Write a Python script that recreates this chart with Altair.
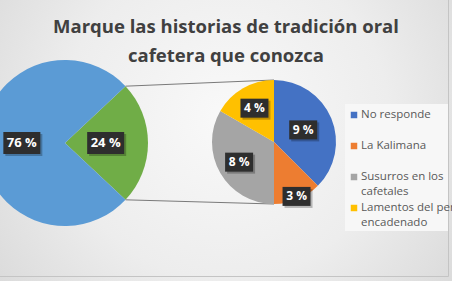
import math
import altair as alt
import pandas as pd

# ---------------- data ----------------
title_lines = ["Marque las historias de tradición oral", "cafetera que conozca"]

main_cats = ["Otras historias", "No responde"]
main_vals = [24, 76]
main_labels = ["24 %", "76 %"]
main_colors = ["#70AD47", "#5B9BD5"]

sub_cats = ["No responde", "La Kalimana", "Susurros en los cafetales", "Lamentos del perro encadenado"]
sub_vals = [9, 3, 8, 4]
sub_labels = ["9 %", "3 %", "8 %", "4 %"]
sub_colors = ["#4472C4", "#ED7D31", "#A5A5A5", "#FFC000"]
legend_lines = [["No responde"], ["La Kalimana"], ["Susurros en los", "cafetales"],
                ["Lamentos del perro", "encadenado"]]

# ---------------- layout ----------------
W, H = 452, 281
LCX, LCY, LR = 65, 143, 83
RCX, RCY, RR = 274, 142, 62
main_label_frac = [0.49, 0.52]
sub_label_frac = [0.51, 0.95, 0.65, 0.63]
FONT = "Open Sans"

main_total = sum(main_vals)
sub_total = sum(sub_vals)
# the "others" slice of the main pie is centred on 3 o'clock
lstart = math.pi / 2 - math.pi * main_vals[0] / main_total


def slice_mids(vals, start):
    tot = sum(vals)
    out, acc = [], start
    for v in vals:
        a = 2 * math.pi * v / tot
        out.append(acc + a / 2)
        acc += a
    return out


main_df = pd.DataFrame({"cat": main_cats, "v": main_vals, "col": main_colors,
                        "ord": list(range(len(main_cats)))})
sub_df = pd.DataFrame({"cat": sub_cats, "v": sub_vals, "col": sub_colors,
                       "ord": list(range(len(sub_cats)))})

lab_rows = []
for lab, ang, f in zip(main_labels, slice_mids(main_vals, lstart), main_label_frac):
    lab_rows.append({"t": lab, "x": LCX + f * LR * math.sin(ang), "y": LCY - f * LR * math.cos(ang),
                     "hw": 18.5, "hh": 11, "fs": 13})
for lab, ang, f in zip(sub_labels, slice_mids(sub_vals, 0.0), sub_label_frac):
    lab_rows.append({"t": lab, "x": RCX + f * RR * math.sin(ang), "y": RCY - f * RR * math.cos(ang),
                     "hw": 14, "hh": 9.5, "fs": 12})
lab_df = pd.DataFrame(lab_rows)
lab_df["x1"] = lab_df.x - lab_df.hw
lab_df["x2"] = lab_df.x + lab_df.hw
lab_df["y1"] = lab_df.y - lab_df.hh
lab_df["y2"] = lab_df.y + lab_df.hh
lab_df["sx1"] = lab_df.x1 + 2
lab_df["sx2"] = lab_df.x2 + 2
lab_df["sy1"] = lab_df.y1 + 2
lab_df["sy2"] = lab_df.y2 + 2

# connector lines: from edges of the "others" slice to top/bottom of the sub pie
a_top = lstart
a_bot = lstart + 2 * math.pi * main_vals[0] / main_total
conn_df = pd.DataFrame({
    "x": [LCX + LR * math.sin(a_top), LCX + LR * math.sin(a_bot)],
    "y": [LCY - LR * math.cos(a_top), LCY - LR * math.cos(a_bot)],
    "x2": [RCX, RCX],
    "y2": [RCY - RR, RCY + RR],
})

leg_rows, text_rows = [], []
LEG_Y0, LEG_STEP, LINE_H = 115, 31, 15
for i, (c, lines) in enumerate(zip(sub_colors, legend_lines)):
    y = LEG_Y0 + LEG_STEP * i
    leg_rows.append({"x": 354, "y": y, "col": c})
    for j, ln in enumerate(lines):
        text_rows.append({"x": 361, "y": y + j * LINE_H, "t": ln})
leg_df = pd.DataFrame(leg_rows)
legtxt_df = pd.DataFrame(text_rows)

title_df = pd.DataFrame({"t": title_lines, "x": [226, 226], "y": [27, 56]})

xs = alt.Scale(domain=[0, W], range=[0, W])
ys = alt.Scale(domain=[0, H], range=[0, H])
X = lambda f: alt.X(f, type="quantitative", scale=xs, axis=None)
Y = lambda f: alt.Y(f, type="quantitative", scale=ys, axis=None)

one = pd.DataFrame({"a": [0]})

bg = alt.Chart(one).mark_rect(fill={
    "gradient": "radial",
    "x1": 0.5, "y1": 0.45, "r1": 0.0,
    "x2": 0.5, "y2": 0.45, "r2": 0.72,
    "stops": [{"offset": 0, "color": "#f9f9f9"}, {"offset": 0.5, "color": "#ededed"},
              {"offset": 1, "color": "#d4d4d4"}],
}).encode(x=alt.value(0), x2=alt.value(W), y=alt.value(0), y2=alt.value(H))

border = alt.Chart(one).mark_rect(fill=None, stroke="#c4c4c4", strokeWidth=1).encode(
    x=alt.value(-2), x2=alt.value(448.5), y=alt.value(-2), y2=alt.value(276.5))

legbox = alt.Chart(one).mark_rect(fill="#f7f7f7").encode(
    x=alt.value(345), x2=alt.value(448), y=alt.value(104), y2=alt.value(231))

conn = alt.Chart(conn_df).mark_rule(color="#7a7a7a", strokeWidth=1).encode(
    x=X("x"), y=Y("y"), x2="x2", y2="y2")

main_pie = alt.Chart(main_df).mark_arc(radius=LR).encode(
    theta=alt.Theta("v:Q", stack=True, scale=alt.Scale(range=[lstart, lstart + 2 * math.pi])),
    order=alt.Order("ord:Q"),
    color=alt.Color("col:N", scale=None),
    x=alt.value(LCX), y=alt.value(LCY))

sub_pie = alt.Chart(sub_df).mark_arc(radius=RR).encode(
    theta=alt.Theta("v:Q", stack=True, scale=alt.Scale(range=[0, 2 * math.pi])),
    order=alt.Order("ord:Q"),
    color=alt.Color("col:N", scale=None),
    x=alt.value(RCX), y=alt.value(RCY))

shadow = alt.Chart(lab_df).mark_rect(fill="#000000", opacity=0.25).encode(
    x=X("sx1"), x2="sx2", y=Y("sy1"), y2="sy2")
boxes = alt.Chart(lab_df).mark_rect(fill="#2e2e2e").encode(
    x=X("x1"), x2="x2", y=Y("y1"), y2="y2")
labtxt = alt.Chart(lab_df).mark_text(color="white", fontWeight="bold", font=FONT,
                                     baseline="middle", align="center").encode(
    x=X("x"), y=Y("y"), text="t:N", size=alt.Size("fs:Q", scale=None))

legmark = alt.Chart(leg_df).mark_point(shape="square", filled=True, size=42, opacity=1).encode(
    x=X("x"), y=Y("y"), color=alt.Color("col:N", scale=None))
legtxt = alt.Chart(legtxt_df).mark_text(align="left", baseline="middle", font=FONT,
                                        fontSize=11.5, color="#595959").encode(
    x=X("x"), y=Y("y"), text="t:N")

title = alt.Chart(title_df).mark_text(align="center", baseline="middle", font=FONT,
                                      fontSize=18.5, fontWeight="bold", color="#404040").encode(
    x=X("x"), y=Y("y"), text="t:N")

chart = alt.layer(bg, border, legbox, conn, main_pie, sub_pie, shadow, boxes, labtxt,
                  legmark, legtxt, title).resolve_scale(
    theta="independent"
).properties(
    width=W, height=H, autosize=alt.AutoSizeParams(type="none"), padding=0
).configure_view(stroke=None)

chart.save("out.html", embed_options={"renderer": "svg", "actions": False})
